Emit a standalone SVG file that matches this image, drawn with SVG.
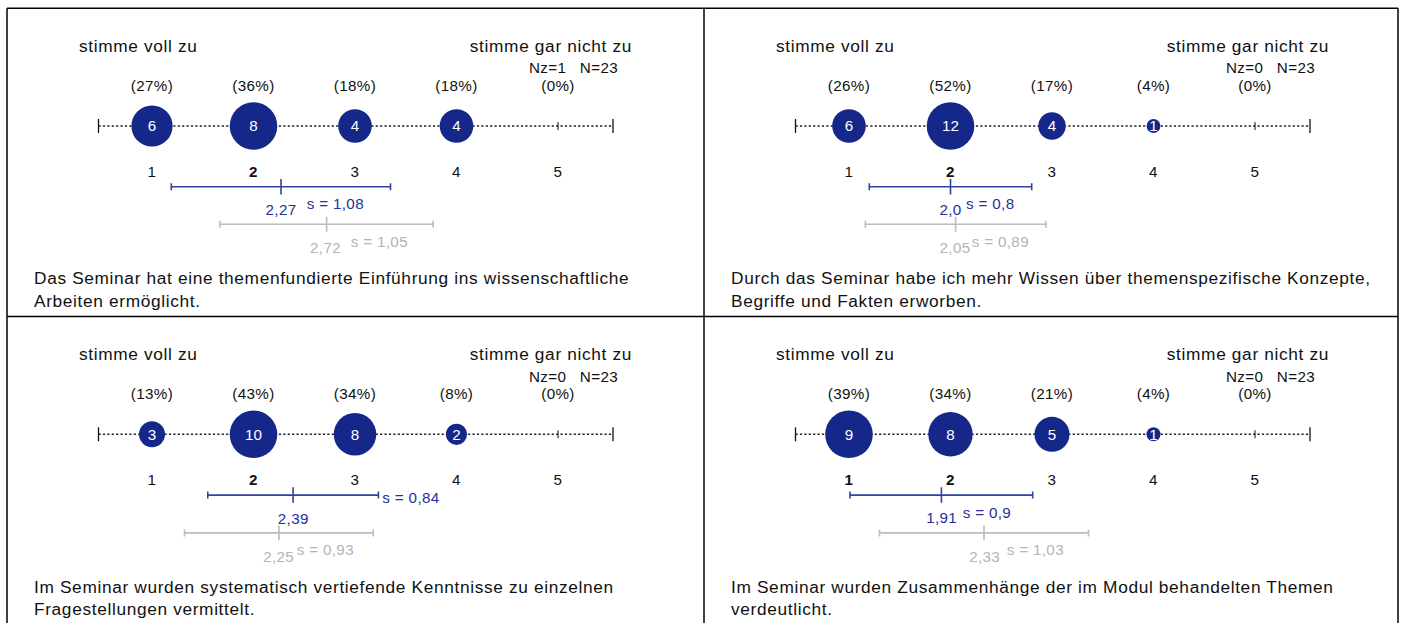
<svg xmlns="http://www.w3.org/2000/svg" width="1403" height="623" viewBox="0 0 1403 623">
<style>
text{font-family:"Liberation Sans",Arial,Helvetica,sans-serif;}
.lbl{font-size:17.3px;letter-spacing:0.65px;fill:#111;}
.q{font-size:17.3px;letter-spacing:0.65px;fill:#111;}
.sm{font-size:15.2px;letter-spacing:0.35px;fill:#111;}
.mid{text-anchor:middle;}
.end{text-anchor:end;}
.b{font-weight:bold;}
.ct{font-size:15.2px;fill:#fff;text-anchor:middle;}
.bt{font-size:15.2px;letter-spacing:0.35px;fill:#22329a;}
.gt{font-size:15.2px;letter-spacing:0.35px;fill:#b4b4b4;}
.axis{stroke:#222;stroke-width:1.5;stroke-dasharray:2.2 2.2;fill:none;}
.tk{stroke:#111;stroke-width:1.3;}
.stk{stroke:#222;stroke-width:1.1;}
.dot{fill:#16278a;}
.bb{stroke:#3242a0;stroke-width:1.6;fill:none;}
.gb{stroke:#bcbcbc;stroke-width:1.6;fill:none;}
.frame{stroke:#000;stroke-width:1.5;fill:none;}
</style>
<defs>
<g id="scale">
<line class="axis" x1="98.5" y1="126" x2="613" y2="126"/>
<line class="tk" x1="98.5" y1="119" x2="98.5" y2="133"/>
<line class="tk" x1="613" y1="119" x2="613" y2="133"/>
<line class="stk" x1="152" y1="122" x2="152" y2="130"/>
<line class="stk" x1="253.5" y1="122" x2="253.5" y2="130"/>
<line class="stk" x1="355" y1="122" x2="355" y2="130"/>
<line class="stk" x1="456.5" y1="122" x2="456.5" y2="130"/>
<line class="stk" x1="558" y1="122" x2="558" y2="130"/>
<text class="lbl" x="79" y="51.7">stimme voll zu</text>
<text class="lbl end" x="632" y="51.7">stimme gar nicht zu</text>
<text class="sm end" x="618" y="73.3">N=23</text>
</g>
</defs>

<g id="frame">
<line class="frame" x1="7" y1="8.3" x2="1398" y2="8.3"/>
<line class="frame" x1="7" y1="8.3" x2="7" y2="623"/>
<line class="frame" x1="1398" y1="8.3" x2="1398" y2="623"/>
<line class="frame" x1="704" y1="8.3" x2="704" y2="623"/>
<line class="frame" x1="7" y1="316.6" x2="1398" y2="316.6"/>
</g>

<g id="panel1">
<use href="#scale"/>
<text class="sm" x="529" y="73.3">Nz=1</text>
<g id="p1-pct">
<text class="sm mid" x="152" y="90.7">(27%)</text>
<text class="sm mid" x="253.5" y="90.7">(36%)</text>
<text class="sm mid" x="355" y="90.7">(18%)</text>
<text class="sm mid" x="456.5" y="90.7">(18%)</text>
<text class="sm mid" x="558" y="90.7">(0%)</text>
</g>
<g id="p1-dots">
<circle class="dot" cx="152" cy="126" r="20.6"/><text class="ct" x="152" y="131.3">6</text>
<circle class="dot" cx="253.5" cy="126" r="23.8"/><text class="ct" x="253.5" y="131.3">8</text>
<circle class="dot" cx="355" cy="126" r="16.8"/><text class="ct" x="355" y="131.3">4</text>
<circle class="dot" cx="456.5" cy="126" r="16.8"/><text class="ct" x="456.5" y="131.3">4</text>
</g>
<text class="sm mid" x="152" y="176.7">1</text>
<text class="sm mid b" x="253.5" y="176.7">2</text>
<text class="sm mid" x="355" y="176.7">3</text>
<text class="sm mid" x="456.5" y="176.7">4</text>
<text class="sm mid" x="558" y="176.7">5</text>
<g id="p1-stats">
<path class="bb" d="M171.3 186.8H390.5M171.3 183.3V190.3M390.5 183.3V190.3M281 179V194.5"/>
<text class="bt mid" x="281" y="215">2,27</text>
<text class="bt" x="306.7" y="209">s = 1,08</text>
<path class="gb" d="M220 224.2H433.2M220 220.7V227.7M433.2 220.7V227.7M326.6 216.7V231.7"/>
<text class="gt mid" x="325.5" y="252.7">2,72</text>
<text class="gt" x="350.7" y="246.7">s = 1,05</text>
</g>
<text class="q" x="34" y="284.3">Das Seminar hat eine themenfundierte Einführung ins wissenschaftliche</text>
<text class="q" x="34" y="306.7">Arbeiten ermöglicht.</text>
</g>

<g id="panel2" transform="translate(697,0)">
<use href="#scale"/>
<text class="sm" x="529" y="73.3">Nz=0</text>
<g id="p2-pct">
<text class="sm mid" x="152" y="90.7">(26%)</text>
<text class="sm mid" x="253.5" y="90.7">(52%)</text>
<text class="sm mid" x="355" y="90.7">(17%)</text>
<text class="sm mid" x="456.5" y="90.7">(4%)</text>
<text class="sm mid" x="558" y="90.7">(0%)</text>
</g>
<g id="p2-dots">
<circle class="dot" cx="152" cy="126" r="16.8"/><text class="ct" x="152" y="131.3">6</text>
<circle class="dot" cx="253.5" cy="126" r="23.8"/><text class="ct" x="253.5" y="131.3">12</text>
<circle class="dot" cx="355" cy="126" r="13.7"/><text class="ct" x="355" y="131.3">4</text>
<circle class="dot" cx="456.5" cy="126" r="6.9"/><text class="ct" x="456.5" y="131.3">1</text>
</g>
<text class="sm mid" x="152" y="176.7">1</text>
<text class="sm mid b" x="253.5" y="176.7">2</text>
<text class="sm mid" x="355" y="176.7">3</text>
<text class="sm mid" x="456.5" y="176.7">4</text>
<text class="sm mid" x="558" y="176.7">5</text>
<g id="p2-stats">
<path class="bb" d="M172.3 186.8H334.7M172.3 183.3V190.3M334.7 183.3V190.3M253.5 179V194.5"/>
<text class="bt mid" x="253.5" y="215">2,0</text>
<text class="bt" x="269" y="209">s = 0,8</text>
<path class="gb" d="M168.3 224.2H348.9M168.3 220.7V227.7M348.9 220.7V227.7M258.6 216.7V231.7"/>
<text class="gt mid" x="258" y="252.7">2,05</text>
<text class="gt" x="274.7" y="246.7">s = 0,89</text>
</g>
<text class="q" x="34" y="284.3">Durch das Seminar habe ich mehr Wissen über themenspezifische Konzepte,</text>
<text class="q" x="34" y="306.7">Begriffe und Fakten erworben.</text>
</g>

<g id="panel3" transform="translate(0,308.3)">
<use href="#scale"/>
<text class="sm" x="529" y="73.3">Nz=0</text>
<g id="p3-pct">
<text class="sm mid" x="152" y="90.7">(13%)</text>
<text class="sm mid" x="253.5" y="90.7">(43%)</text>
<text class="sm mid" x="355" y="90.7">(34%)</text>
<text class="sm mid" x="456.5" y="90.7">(8%)</text>
<text class="sm mid" x="558" y="90.7">(0%)</text>
</g>
<g id="p3-dots">
<circle class="dot" cx="152" cy="126" r="13"/><text class="ct" x="152" y="131.3">3</text>
<circle class="dot" cx="253.5" cy="126" r="23.8"/><text class="ct" x="253.5" y="131.3">10</text>
<circle class="dot" cx="355" cy="126" r="21.3"/><text class="ct" x="355" y="131.3">8</text>
<circle class="dot" cx="456.5" cy="126" r="10.6"/><text class="ct" x="456.5" y="131.3">2</text>
</g>
<text class="sm mid" x="152" y="176.7">1</text>
<text class="sm mid b" x="253.5" y="176.7">2</text>
<text class="sm mid" x="355" y="176.7">3</text>
<text class="sm mid" x="456.5" y="176.7">4</text>
<text class="sm mid" x="558" y="176.7">5</text>
<g id="p3-stats">
<path class="bb" d="M207.8 186.8H378.4M207.8 183.3V190.3M378.4 183.3V190.3M293.1 179V194.5"/>
<text class="bt mid" x="293.3" y="215.5">2,39</text>
<text class="bt" x="382.3" y="194.4">s = 0,84</text>
<path class="gb" d="M184.5 224.6H373.3M184.5 221.1V228.1M373.3 221.1V228.1M278.9 217V232"/>
<text class="gt mid" x="278.7" y="253.4">2,25</text>
<text class="gt" x="296.7" y="246.7">s = 0,93</text>
</g>
<text class="q" x="34" y="284.3">Im Seminar wurden systematisch vertiefende Kenntnisse zu einzelnen</text>
<text class="q" x="34" y="306.7">Fragestellungen vermittelt.</text>
</g>

<g id="panel4" transform="translate(697,308.3)">
<use href="#scale"/>
<text class="sm" x="529" y="73.3">Nz=0</text>
<g id="p4-pct">
<text class="sm mid" x="152" y="90.7">(39%)</text>
<text class="sm mid" x="253.5" y="90.7">(34%)</text>
<text class="sm mid" x="355" y="90.7">(21%)</text>
<text class="sm mid" x="456.5" y="90.7">(4%)</text>
<text class="sm mid" x="558" y="90.7">(0%)</text>
</g>
<g id="p4-dots">
<circle class="dot" cx="152" cy="126" r="23.8"/><text class="ct" x="152" y="131.3">9</text>
<circle class="dot" cx="253.5" cy="126" r="22.2"/><text class="ct" x="253.5" y="131.3">8</text>
<circle class="dot" cx="355" cy="126" r="17.5"/><text class="ct" x="355" y="131.3">5</text>
<circle class="dot" cx="456.5" cy="126" r="7"/><text class="ct" x="456.5" y="131.3">1</text>
</g>
<text class="sm mid b" x="152" y="176.7">1</text>
<text class="sm mid b" x="253.5" y="176.7">2</text>
<text class="sm mid" x="355" y="176.7">3</text>
<text class="sm mid" x="456.5" y="176.7">4</text>
<text class="sm mid" x="558" y="176.7">5</text>
<g id="p4-stats">
<path class="bb" d="M153 186.8H335.7M153 183.3V190.3M335.7 183.3V190.3M244.4 179V194.5"/>
<text class="bt mid" x="244.7" y="215">1,91</text>
<text class="bt" x="265.7" y="210">s = 0,9</text>
<path class="gb" d="M182.5 224.6H391.5M182.5 221.1V228.1M391.5 221.1V228.1M287 217V232"/>
<text class="gt mid" x="287.7" y="254">2,33</text>
<text class="gt" x="309.7" y="246.7">s = 1,03</text>
</g>
<text class="q" x="34" y="284.3">Im Seminar wurden Zusammenhänge der im Modul behandelten Themen</text>
<text class="q" x="34" y="306.7">verdeutlicht.</text>
</g>
</svg>
